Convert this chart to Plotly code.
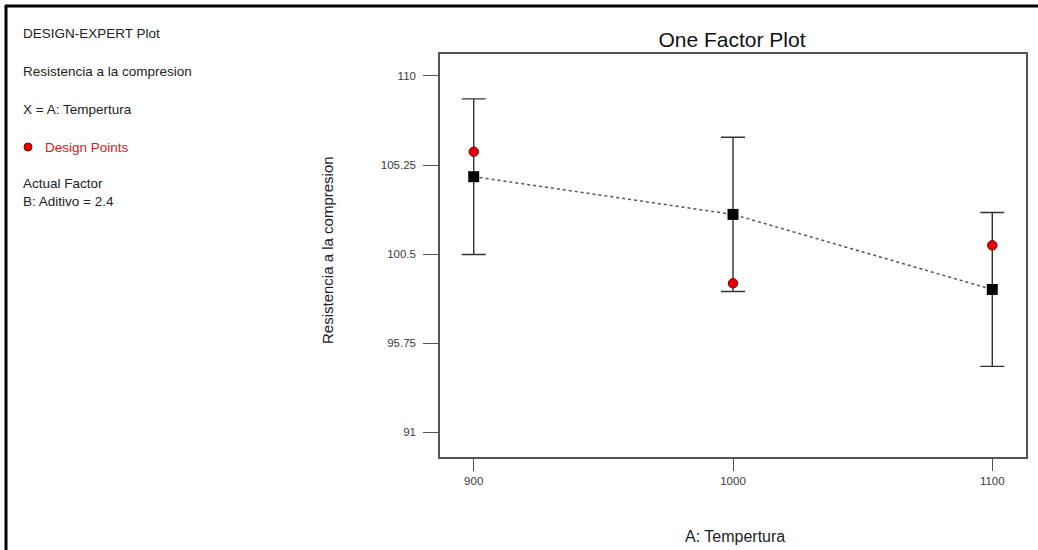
import plotly.graph_objects as go

# One-factor effect of temperature on compressive strength
temps = [900, 1000, 1100]
predicted = [104.63, 102.62, 98.62]        # model prediction at each level
ci_half = [4.15, 4.11, 4.10]               # half-width of the interval bars
design_points = [105.96, 98.95, 100.97]    # observed design points
y_ticks = [91, 95.75, 100.5, 105.25, 110]
x_ticks = [900, 1000, 1100]

W, H = 1038, 550
L, R, T, B = 440, 12, 54, 93
FONT = "Liberation Sans, Arial, sans-serif"


def px_x(x):
    return (x - L) / (W - L - R)


def px_y(y):
    return 1 - (y - T) / (H - T - B)


fig = go.Figure()

# dotted line linking the predicted means
fig.add_trace(go.Scatter(
    x=temps, y=predicted, mode="lines",
    line=dict(color="#555555", width=1.5, dash="dot"),
    hoverinfo="skip", showlegend=False,
))

# interval bars with the predicted means as black squares
fig.add_trace(go.Scatter(
    x=temps, y=predicted, mode="markers",
    marker=dict(symbol="square", size=11, color="black"),
    error_y=dict(type="data", array=ci_half, visible=True,
                 color="#333333", thickness=1.4, width=12),
    showlegend=False,
))

# design points
fig.add_trace(go.Scatter(
    x=temps, y=design_points, mode="markers",
    marker=dict(symbol="circle", size=9.5, color="#e00000",
                line=dict(color="#7a0000", width=1)),
    showlegend=False,
))

axis_common = dict(
    showline=True, linecolor="#555555", linewidth=1.5, mirror=True,
    showgrid=False, zeroline=False, ticks="outside", tickcolor="#555555",
    tickwidth=1.2, tickfont=dict(family=FONT, size=11.5, color="#3a3a3a"),
)

fig.update_xaxes(range=[887, 1113], tickvals=x_ticks, ticklen=12,
                 ticklabelstandoff=0, title=None, **axis_common)
fig.update_yaxes(range=[89.69, 111.17], tickvals=y_ticks,
                 ticktext=[f"{v:g}" for v in y_ticks], ticklen=15,
                 ticklabelstandoff=5, title=None, **axis_common)

annotations = []
side_text = [
    ("DESIGN-EXPERT Plot", 21, 34, "#222222"),
    ("Resistencia a la compresion", 21, 72, "#222222"),
    ("X = A: Tempertura", 21, 109, "#222222"),
    ("Design Points", 43, 147, "#d42020"),
    ("Actual Factor", 21, 183, "#222222"),
    ("B: Aditivo = 2.4", 21, 201, "#222222"),
]
for txt, x, y, col in side_text:
    annotations.append(dict(
        text=txt, xref="paper", yref="paper", x=px_x(x), y=px_y(y),
        xanchor="left", yanchor="middle", showarrow=False,
        font=dict(family=FONT, size=13.5, color=col),
    ))

# axis titles
annotations.append(dict(
    text="A: Tempertura", xref="paper", yref="paper",
    x=px_x(735), y=px_y(536), xanchor="center", yanchor="middle",
    showarrow=False, font=dict(family=FONT, size=16, color="#222222"),
))
annotations.append(dict(
    text="Resistencia a la compresion", xref="paper", yref="paper",
    x=px_x(328), y=px_y(250), xanchor="center", yanchor="middle",
    textangle=-90, showarrow=False,
    font=dict(family=FONT, size=15, color="#222222"),
))

shapes = [
    # red marker in the side key
    dict(type="circle", xref="paper", yref="paper",
         x0=px_x(24), x1=px_x(32), y0=px_y(143), y1=px_y(151),
         fillcolor="#e00000", line=dict(color="#7a0000", width=1)),
    # outer frame: top and left edges
    dict(type="line", xref="paper", yref="paper",
         x0=px_x(5), x1=px_x(W), y0=px_y(6), y1=px_y(6),
         line=dict(color="black", width=3)),
    dict(type="line", xref="paper", yref="paper",
         x0=px_x(6), x1=px_x(6), y0=px_y(5), y1=px_y(H),
         line=dict(color="black", width=3)),
]

fig.update_layout(
    template="none",
    width=W, height=H,
    margin=dict(l=L, r=R, t=T, b=B, autoexpand=False),
    paper_bgcolor="white", plot_bgcolor="white",
    title=dict(text="One Factor Plot", x=px_x(732), xref="paper",
               xanchor="center", y=1 - 40 / H, yref="container",
               yanchor="middle",
               font=dict(family=FONT, size=21, color="#111111")),
    annotations=annotations, shapes=shapes,
    font=dict(family=FONT),
)

fig.write_html("out.html")
